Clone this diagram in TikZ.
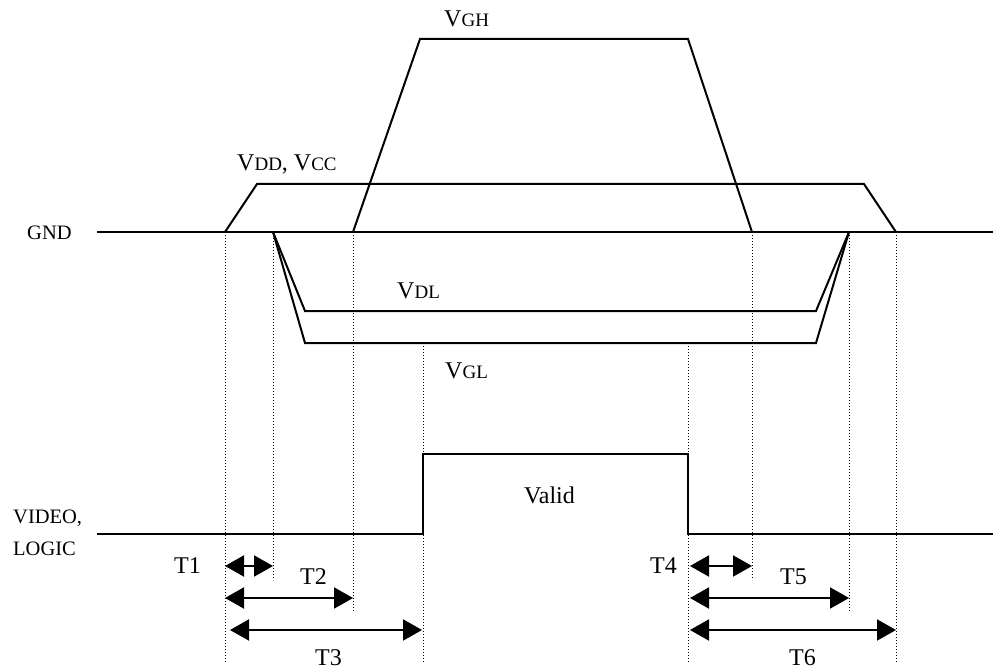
\documentclass[tikz,border=0pt]{standalone}
\usepackage{fontspec}
\setmainfont{Liberation Serif}
\usetikzlibrary{arrows.meta}
\newcommand{\bigf}{\fontsize{24}{24}\selectfont}
\newcommand{\smallf}{\fontsize{19}{19}\selectfont}
\newcommand{\sigV}[1]{{\bigf V}{\smallf #1}}
\tikzset{
  wave/.style={line width=2pt, line join=miter},
  guide/.style={line width=1pt, dash pattern=on 1pt off 2pt},
  dim/.style={line width=2pt, {Triangle[length=19pt,width=21pt]}-{Triangle[length=19pt,width=21pt]}},
  lbl/.style={anchor=base west, inner sep=0pt, font=\bigf},
  sidelbl/.style={anchor=base west, inner sep=0pt, font=\fontsize{20.5}{20.5}\selectfont}
}
\begin{document}
\begin{tikzpicture}[x=1pt,y=-1pt]
\useasboundingbox (0,0) rectangle (1004,671);
% key coordinates
\coordinate (gndL) at (97,232);
\coordinate (gndR) at (993,232);
\coordinate (vddA) at (225,232);
\coordinate (vddB) at (257,184);
\coordinate (vddC) at (864,184);
\coordinate (vddD) at (896,232);
\coordinate (vghA) at (353,232);
\coordinate (vghB) at (420,39);
\coordinate (vghC) at (688,39);
\coordinate (vghD) at (752,232);
\coordinate (negA) at (273,232);
\coordinate (negB) at (849,232);
\coordinate (vdlL) at (305,311);
\coordinate (vdlR) at (816,311);
\coordinate (vglL) at (305,343);
\coordinate (vglR) at (816,343);
\coordinate (vidL) at (97,534);
\coordinate (vidA) at (423,534);
\coordinate (vidB) at (423,454);
\coordinate (vidC) at (688,454);
\coordinate (vidD) at (688,534);
\coordinate (vidR) at (993,534);
% bottom ends of guides
\coordinate (g1) at (225,663);
\coordinate (g2) at (273,580);
\coordinate (g3) at (353,612);
\coordinate (g4t) at (423,343);
\coordinate (g4) at (423,663);
\coordinate (g5t) at (688,343);
\coordinate (g5) at (688,663);
\coordinate (g6) at (752,580);
\coordinate (g7) at (849,612);
\coordinate (g8) at (896,663);
% waveforms
\draw[wave] (gndL) -- (gndR);
\draw[wave] (vddA) -- (vddB) -- (vddC) -- (vddD);
\draw[wave] (vghA) -- (vghB) -- (vghC) -- (vghD);
\draw[wave] (negA) -- (vdlL) -- (vdlR) -- (negB);
\draw[wave] (negA) -- (vglL) -- (vglR) -- (negB);
\draw[wave] (vidL) -- (vidA) -- (vidB) -- (vidC) -- (vidD) -- (vidR);
% guides
\draw[guide] (vddA) -- (g1);
\draw[guide] (negA) -- (g2);
\draw[guide] (vghA) -- (g3);
\draw[guide] (g4t) -- (g4);
\draw[guide] (g5t) -- (g5);
\draw[guide] (vghD) -- (g6);
\draw[guide] (negB) -- (g7);
\draw[guide] (vddD) -- (g8);
% dimension arrows
\coordinate (a1s) at (225,566); \coordinate (a1e) at (273,566);
\coordinate (a2s) at (225,598); \coordinate (a2e) at (353,598);
\coordinate (a3s) at (230,630); \coordinate (a3e) at (422,630);
\coordinate (a4s) at (690,566); \coordinate (a4e) at (752,566);
\coordinate (a5s) at (690,598); \coordinate (a5e) at (849,598);
\coordinate (a6s) at (690,630); \coordinate (a6e) at (896,630);
\draw[dim] (a1s) -- (a1e);
\draw[dim] (a2s) -- (a2e);
\draw[dim] (a3s) -- (a3e);
\draw[dim] (a4s) -- (a4e);
\draw[dim] (a5s) -- (a5e);
\draw[dim] (a6s) -- (a6e);
% labels
\node[lbl] (lvgh) at (444,27) {\sigV{GH}};
\node[lbl] (lvdd) at (237,171) {\sigV{DD}, \sigV{CC}};
\node[lbl] (lvdl) at (397,298) {\sigV{DL}};
\node[lbl] (lvgl) at (445,378) {\sigV{GL}};
\node[lbl] (lvalid) at (524,503) {Valid};
\node[sidelbl] (lgnd) at (27,240) {GND};
\node[sidelbl] (lvideo) at (13,523) {VIDEO,};
\node[sidelbl] (llogic) at (13,555) {LOGIC};
\node[lbl] (t1) at (174,573) {T1};
\node[lbl] (t2) at (300,584) {T2};
\node[lbl] (t3) at (315,665) {T3};
\node[lbl] (t4) at (650,573) {T4};
\node[lbl] (t5) at (780,584) {T5};
\node[lbl] (t6) at (789,665) {T6};
\end{tikzpicture}
\end{document}
